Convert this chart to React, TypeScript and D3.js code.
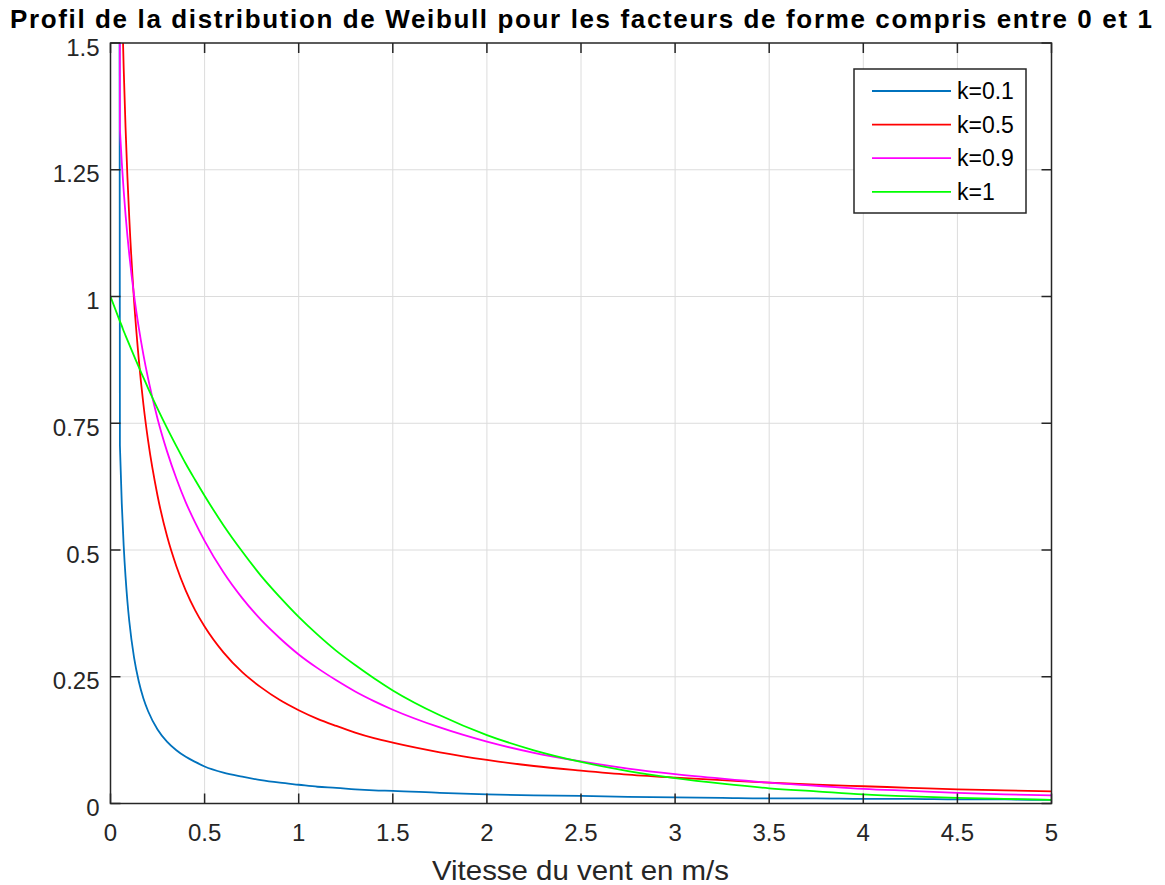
import React, { useEffect, useRef } from "react";
import * as d3 from "d3";

// Wind speed samples (m/s) read along the x axis.
const vitesse = [0, 0.05, 0.06, 0.07, 0.08, 0.09, 0.1, 0.125, 0.15, 0.175, 0.2, 0.25, 0.3, 0.35, 0.4, 0.45, 0.5, 0.6, 0.7, 0.8, 0.9, 1, 1.1, 1.2, 1.3, 1.4, 1.5, 1.75, 2, 2.25, 2.5, 2.75, 3, 3.25, 3.5, 3.75, 4, 4.25, 4.5, 4.75, 5];

// Curve values (first value of k<1 is far above the visible top).
const k01 = [25, 0.706, 0.591, 0.509, 0.447, 0.398, 0.359, 0.288, 0.241, 0.207, 0.182, 0.146, 0.122, 0.105, 0.092, 0.082, 0.073, 0.061, 0.053, 0.046, 0.041, 0.037, 0.033, 0.031, 0.028, 0.026, 0.025, 0.021, 0.018, 0.016, 0.015, 0.013, 0.012, 0.011, 0.010, 0.010, 0.009, 0.009, 0.008, 0.008, 0.007];
const k05 = [25, 1.788, 1.598, 1.451, 1.333, 1.235, 1.153, 0.993, 0.877, 0.787, 0.715, 0.607, 0.528, 0.468, 0.42, 0.381, 0.349, 0.298, 0.259, 0.229, 0.204, 0.184, 0.167, 0.153, 0.14, 0.129, 0.12, 0.101, 0.086, 0.074, 0.065, 0.057, 0.051, 0.046, 0.041, 0.037, 0.034, 0.031, 0.028, 0.026, 0.024];
const k09 = [25, 1.33, 1.264, 1.209, 1.161, 1.119, 1.082, 1.003, 0.939, 0.885, 0.838, 0.759, 0.695, 0.641, 0.594, 0.554, 0.518, 0.456, 0.405, 0.362, 0.326, 0.294, 0.267, 0.243, 0.221, 0.202, 0.185, 0.15, 0.122, 0.1, 0.083, 0.069, 0.058, 0.049, 0.041, 0.035, 0.029, 0.025, 0.021, 0.018, 0.016];
const k1 = [1, 0.951, 0.942, 0.932, 0.923, 0.914, 0.905, 0.883, 0.861, 0.84, 0.819, 0.779, 0.741, 0.705, 0.67, 0.638, 0.607, 0.549, 0.497, 0.449, 0.407, 0.368, 0.333, 0.301, 0.273, 0.247, 0.223, 0.174, 0.135, 0.105, 0.082, 0.064, 0.05, 0.039, 0.03, 0.024, 0.018, 0.014, 0.011, 0.009, 0.007];

const legendLabels = ["k=0.1", "k=0.5", "k=0.9", "k=1"];
const xTicks = [0, 0.5, 1, 1.5, 2, 2.5, 3, 3.5, 4, 4.5, 5];
const yTicks = [0, 0.25, 0.5, 0.75, 1, 1.25, 1.5];

const App = () => {
  const svgRef = useRef(null);

  useEffect(() => {
    const width = 1165;
    const height = 885;
    const left = 110.5, right = 1051.5, top = 43, bottom = 803.5;
    const axisColor = "#262626";
    const font = "'Liberation Sans', Arial, Helvetica, sans-serif";

    const svg = d3.select(svgRef.current)
      .attr("width", width)
      .attr("height", height);
    svg.selectAll("*").remove();

    svg.append("rect").attr("width", width).attr("height", height).attr("fill", "#fff");

    const x = d3.scaleLinear().domain([0, 5]).range([left, right]);
    const y = d3.scaleLinear().domain([0, 1.5]).range([bottom, top]);

    // grid
    const grid = svg.append("g").attr("stroke", "#dcdcdc").attr("stroke-width", 1);
    xTicks.slice(1, -1).forEach(t => {
      grid.append("line").attr("x1", x(t)).attr("x2", x(t)).attr("y1", top).attr("y2", bottom);
    });
    yTicks.slice(1, -1).forEach(t => {
      grid.append("line").attr("x1", left).attr("x2", right).attr("y1", y(t)).attr("y2", y(t));
    });

    svg.append("defs").append("clipPath").attr("id", "plot-clip")
      .append("rect").attr("x", left).attr("y", top).attr("width", right - left).attr("height", bottom - top);

    const series = [
      { values: k01, color: "#0072BD" },
      { values: k05, color: "#FF0000" },
      { values: k09, color: "#FF00FF" },
      { values: k1, color: "#00FF00" },
    ];

    // straight first segment (from the off-scale start), smooth afterwards
    const firstSeg = d3.line<[number, number]>()
      .x(d => x(d[0]))
      .y(d => y(d[1]));
    const smooth = d3.line<[number, number]>()
      .x(d => x(d[0]))
      .y(d => y(d[1]))
      .curve(d3.curveMonotoneX);

    const curves = svg.append("g").attr("clip-path", "url(#plot-clip)");
    series.forEach(s => {
      const pts: [number, number][] = s.values.map((v, i) => [vitesse[i], v]);
      const d = firstSeg(pts.slice(0, 2)) + smooth(pts.slice(1)).replace(/^M/, "L");
      curves.append("path")
        .attr("fill", "none")
        .attr("stroke", s.color)
        .attr("stroke-width", 1.8)
        .attr("stroke-linejoin", "round")
        .attr("d", d);
    });

    // axes box with inward ticks on all sides
    const tickLen = 10;
    const axes = svg.append("g").attr("stroke", axisColor).attr("stroke-width", 1.5);
    axes.append("rect").attr("x", left).attr("y", top).attr("width", right - left).attr("height", bottom - top).attr("fill", "none");
    xTicks.forEach(t => {
      axes.append("line").attr("x1", x(t)).attr("x2", x(t)).attr("y1", bottom).attr("y2", bottom - tickLen);
      axes.append("line").attr("x1", x(t)).attr("x2", x(t)).attr("y1", top).attr("y2", top + tickLen);
    });
    yTicks.forEach(t => {
      axes.append("line").attr("x1", left).attr("x2", left + tickLen).attr("y1", y(t)).attr("y2", y(t));
      axes.append("line").attr("x1", right).attr("x2", right - tickLen).attr("y1", y(t)).attr("y2", y(t));
    });

    // tick labels
    svg.append("g").selectAll("text").data(xTicks).join("text")
      .attr("x", d => x(d))
      .attr("y", bottom + 37)
      .attr("text-anchor", "middle")
      .attr("font-family", font)
      .attr("font-size", 24)
      .attr("fill", axisColor)
      .text(d => String(d));

    svg.append("g").selectAll("text").data(yTicks).join("text")
      .attr("x", left - 11)
      .attr("y", d => y(d) + 12.5)
      .attr("text-anchor", "end")
      .attr("font-family", font)
      .attr("font-size", 24)
      .attr("fill", axisColor)
      .text(d => String(d));

    // x label
    svg.append("text")
      .attr("x", 432)
      .attr("y", 880)
      .attr("font-family", font)
      .attr("font-size", 28)
      .attr("textLength", 297)
      .attr("lengthAdjust", "spacingAndGlyphs")
      .attr("fill", axisColor)
      .text("Vitesse du vent en m/s");

    // title
    svg.append("text")
      .attr("x", 10)
      .attr("y", 28)
      .attr("font-family", font)
      .attr("font-size", 26)
      .attr("font-weight", "bold")
      .attr("textLength", 1142)
      .attr("lengthAdjust", "spacing")
      .attr("fill", "#000")
      .text("Profil de la distribution de Weibull pour les facteurs de forme compris entre 0 et 1");

    // legend
    const lg = svg.append("g");
    lg.append("rect")
      .attr("x", 854).attr("y", 69).attr("width", 172).attr("height", 144)
      .attr("fill", "#fff").attr("stroke", axisColor).attr("stroke-width", 1.5);
    series.forEach((s, i) => {
      const ry = 91 + i * 33.6;
      lg.append("line")
        .attr("x1", 872).attr("x2", 951).attr("y1", ry).attr("y2", ry)
        .attr("stroke", s.color).attr("stroke-width", 1.8);
      lg.append("text")
        .attr("x", 957).attr("y", ry + 8)
        .attr("font-family", font)
        .attr("font-size", 23)
        .attr("fill", "#000")
        .text(legendLabels[i]);
    });
  }, []);

  return (
    <div style={{ position: "absolute", left: 0, top: 0 }}>
      <svg ref={svgRef} style={{ display: "block" }}></svg>
    </div>
  );
};

export default App;
